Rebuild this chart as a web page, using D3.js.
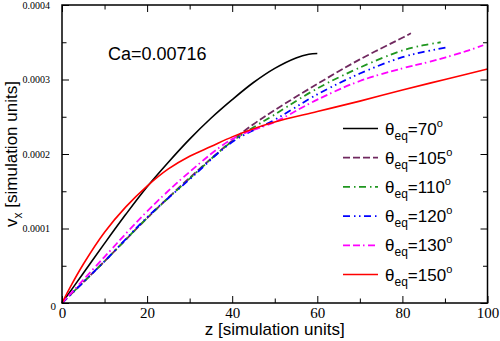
<!DOCTYPE html>
<html>
<head>
<meta charset="utf-8">
<script src="https://cdn.jsdelivr.net/npm/d3@7"></script>
<style>
  html, body { margin: 0; padding: 0; background: #fff; }
</style>
</head>
<body>
<script>
// data, v in simulation units
const z70 = [0, 5, 10, 15, 20, 25, 30, 35, 40, 45, 50, 55, 58, 60]
const v70 = [0, 0.40e-4, 0.80e-4, 1.19e-4, 1.56e-4, 1.89e-4, 2.20e-4, 2.48e-4, 2.73e-4, 2.96e-4, 3.15e-4, 3.29e-4, 3.34e-4, 3.35e-4]

const z105 = [0, 10, 20, 30, 40, 45, 50, 60, 70, 80, 82]
const v105 = [0, 0.56e-4, 1.14e-4, 1.68e-4, 2.18e-4, 2.40e-4, 2.59e-4, 2.94e-4, 3.27e-4, 3.56e-4, 3.62e-4]

const z110 = [0, 10, 20, 30, 40, 50, 60, 70, 80, 85, 89]
const v110 = [0, 0.56e-4, 1.14e-4, 1.67e-4, 2.17e-4, 2.53e-4, 2.88e-4, 3.16e-4, 3.39e-4, 3.46e-4, 3.50e-4]

const z120 = [0, 10, 20, 30, 40, 50, 60, 70, 80, 85, 90.4]
const v120 = [0, 0.56e-4, 1.15e-4, 1.66e-4, 2.16e-4, 2.46e-4, 2.80e-4, 3.08e-4, 3.30e-4, 3.37e-4, 3.43e-4]

const z130 = [0, 10, 20, 30, 40, 50, 60, 70, 80, 86.5, 95, 99]
const v130 = [0, 0.62e-4, 1.23e-4, 1.76e-4, 2.20e-4, 2.43e-4, 2.73e-4, 2.98e-4, 3.15e-4, 3.24e-4, 3.38e-4, 3.46e-4]

const z150 = [0, 2, 5, 10, 15, 20, 25, 30, 35, 40, 45, 50, 60, 70, 80, 90, 100]
const v150 = [0, 0.22e-4, 0.52e-4, 0.95e-4, 1.29e-4, 1.57e-4, 1.80e-4, 1.97e-4, 2.10e-4, 2.23e-4, 2.34e-4, 2.43e-4, 2.57e-4, 2.71e-4, 2.86e-4, 3.00e-4, 3.14e-4]

const thetas = ['70', '105', '110', '120', '130', '150']
const xTicks = [0, 20, 40, 60, 80, 100]
const yTicks = [0, 0.0001, 0.0002, 0.0003, 0.0004]
const caLabel = 'Ca=0.00716'

const width = 500
const height = 341
const margin = { top: 5, right: 12.5, bottom: 38, left: 62 }

const series = [
  { theta: thetas[0], z: z70, v: v70, color: '#000000', dash: null },
  { theta: thetas[1], z: z105, v: v105, color: '#70285f', dash: '7,3' },
  { theta: thetas[2], z: z110, v: v110, color: '#1f961f', dash: '7,4,1.5,3.5' },
  { theta: thetas[3], z: z120, v: v120, color: '#0000ff', dash: '7,4,1.5,3.5,1.5,3.5' },
  { theta: thetas[4], z: z130, v: v130, color: '#ff00ff', dash: '7,3,7,3,1.5,3.5' },
  { theta: thetas[5], z: z150, v: v150, color: '#ff0000', dash: null },
]

var svg = d3.select('body')
  .append('svg')
  .attr('width', width)
  .attr('height', height)
  .style('display', 'block')

var x = d3.scaleLinear()
  .domain([0, 100])
  .range([margin.left, width - margin.right])

var y = d3.scaleLinear()
  .domain([0, 0.0004])
  .range([height - margin.bottom, margin.top])

var line = d3.line()
  .x(d => x(d[0]))
  .y(d => y(d[1]))
  .curve(d3.curveCatmullRom.alpha(0.5))

// curves
var plot = svg.append('g')
series.forEach(s => {
  plot.append('path')
    .datum(s.z.map((z, i) => [z, s.v[i]]))
    .attr('d', line)
    .attr('fill', 'none')
    .attr('stroke', s.color)
    .attr('stroke-width', s.dash ? 1.8 : 1.6)
    .attr('stroke-dasharray', s.dash)
})

// axes, ticks pointing inward on all four sides
function styleAxis(g) {
  g.select('.domain').remove()
  g.selectAll('line').attr('stroke', '#000').attr('stroke-width', 1)
}

var xMinor = d3.range(10, 100, 20)
var yMinor = [0.00005, 0.00015, 0.00025, 0.00035]

svg.append('g')
  .attr('transform', `translate(0,${y(0)})`)
  .call(d3.axisBottom(x).tickValues(xTicks).tickSize(-7).tickPadding(4))
  .call(styleAxis)
  .selectAll('text')
  .attr('font-family', '"Liberation Serif", "Times New Roman", serif')
  .attr('font-size', 15)
  .attr('fill', '#000')

svg.append('g')
  .attr('transform', `translate(0,${y(0)})`)
  .call(d3.axisBottom(x).tickValues(xMinor).tickSize(-4.5).tickFormat(''))
  .call(styleAxis)

svg.append('g')
  .attr('transform', `translate(0,${y(0.0004)})`)
  .call(d3.axisTop(x).tickValues(xTicks).tickSize(-7).tickFormat(''))
  .call(styleAxis)

svg.append('g')
  .attr('transform', `translate(0,${y(0.0004)})`)
  .call(d3.axisTop(x).tickValues(xMinor).tickSize(-4.5).tickFormat(''))
  .call(styleAxis)

var yAxis = svg.append('g')
  .attr('transform', `translate(${x(0)},0)`)
  .call(d3.axisLeft(y).tickValues(yTicks).tickSize(-7).tickPadding(12)
    .tickFormat(d => d === 0 ? '0' : d.toFixed(4)))
  .call(styleAxis)

yAxis.selectAll('text')
  .attr('font-family', '"Liberation Serif", "Times New Roman", serif')
  .attr('font-size', d => d === 0 ? 11 : 10)
  .attr('fill', '#000')
  .attr('dx', d => d === 0 ? 6 : 0)
  .attr('dy', d => d === 0 ? '0.55em' : '0.32em')

svg.append('g')
  .attr('transform', `translate(${x(0)},0)`)
  .call(d3.axisLeft(y).tickValues(yMinor).tickSize(-4.5).tickFormat(''))
  .call(styleAxis)

svg.append('g')
  .attr('transform', `translate(${x(100)},0)`)
  .call(d3.axisRight(y).tickValues(yTicks).tickSize(-7).tickFormat(''))
  .call(styleAxis)

svg.append('g')
  .attr('transform', `translate(${x(100)},0)`)
  .call(d3.axisRight(y).tickValues(yMinor).tickSize(-4.5).tickFormat(''))
  .call(styleAxis)

// frame
svg.append('rect')
  .attr('x', x(0))
  .attr('y', y(0.0004))
  .attr('width', x(100) - x(0))
  .attr('height', y(0) - y(0.0004))
  .attr('fill', 'none')
  .attr('stroke', '#000')
  .attr('stroke-width', 1.5)

// axis titles
var sans = '"Liberation Sans", Arial, Helvetica, sans-serif'

svg.append('text')
  .attr('x', (x(0) + x(100)) / 2)
  .attr('y', 335)
  .attr('text-anchor', 'middle')
  .attr('font-family', sans)
  .attr('font-size', 17)
  .text('z [simulation units]')

var yt = svg.append('text')
  .attr('transform', `translate(17,${(y(0) + y(0.0004)) / 2}) rotate(-90)`)
  .attr('text-anchor', 'middle')
  .attr('font-family', sans)
  .attr('font-size', 17)
yt.append('tspan').text('v')
yt.append('tspan').attr('font-size', 12).attr('dy', 5).text('x')
yt.append('tspan').attr('dy', -5).text(' [simulation units]')

svg.append('text')
  .attr('x', 108)
  .attr('y', 60)
  .attr('font-family', sans)
  .attr('font-size', 18)
  .text(caLabel)

// legend
var legend = svg.append('g')
  .attr('transform', 'translate(343,128.5)')

series.forEach((s, i) => {
  var row = legend.append('g')
    .attr('transform', `translate(0,${i * 29.2})`)
  row.append('line')
    .attr('x1', 0)
    .attr('x2', 35)
    .attr('stroke', s.color)
    .attr('stroke-width', s.dash ? 1.8 : 1.6)
    .attr('stroke-dasharray', s.dash)
  var t = row.append('text')
    .attr('x', 42)
    .attr('y', 6)
    .attr('font-family', sans)
    .attr('font-size', 17)
  t.append('tspan').text('\u03b8')
  t.append('tspan').attr('font-size', 12).attr('dy', 5).text('eq')
  t.append('tspan').attr('dy', -5).text('=' + s.theta)
  t.append('tspan').attr('font-size', 11).attr('dy', -8).text('o')
})
</script>
</body>
</html>
